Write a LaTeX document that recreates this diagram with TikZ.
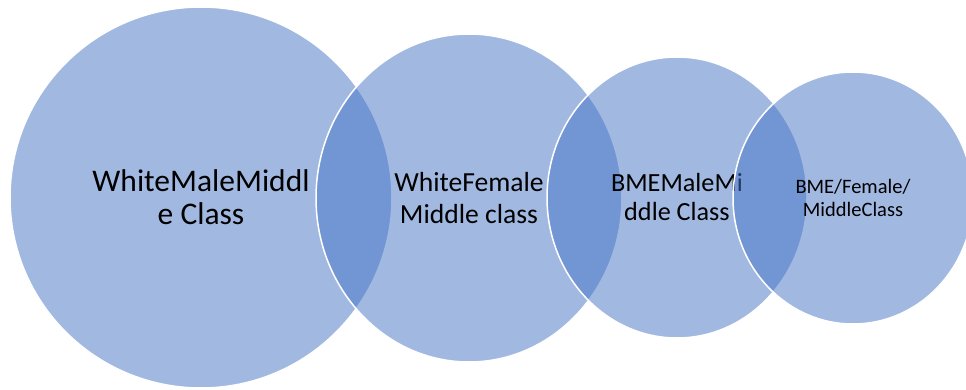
\documentclass[tikz,border=0pt]{standalone}
\usepackage{fontspec}
\setmainfont{Carlito}
\usetikzlibrary{shapes.geometric}
\definecolor{setblue}{HTML}{4472C4}

\begin{document}
\begin{tikzpicture}[
	x=1pt,
	y=-1pt,
	group/.style={
		ellipse,
		draw=white,
		line width=1.5pt,
		fill=setblue,
		fill opacity=0.5,
		text opacity=1,
		text=black,
		align=center,
		inner sep=0pt
	},
]

% Page
\clip (0,0) rectangle (966,390);

% Groups, left to right
\node[group, minimum width=382pt, minimum height=381pt, font=\fontsize{31.5}{33}\selectfont]
(wmm) at (201,197.5) {WhiteMaleMiddl\\e Class};

\node[group, minimum width=306pt, minimum height=328pt, font=\fontsize{27.6}{32}\selectfont]
(wfm) at (469,198) {WhiteFemale\\Middle class};

\node[group, minimum width=260pt, minimum height=281pt, font=\fontsize{26.2}{29}\selectfont]
(bmm) at (677,197.5) {BMEMaleMi\\ddle Class};

\node[group, minimum width=240pt, minimum height=252pt, font=\fontsize{20.5}{23}\selectfont]
(bfm) at (853,198) {BME/Female/\\MiddleClass};

\end{tikzpicture}
\end{document}
